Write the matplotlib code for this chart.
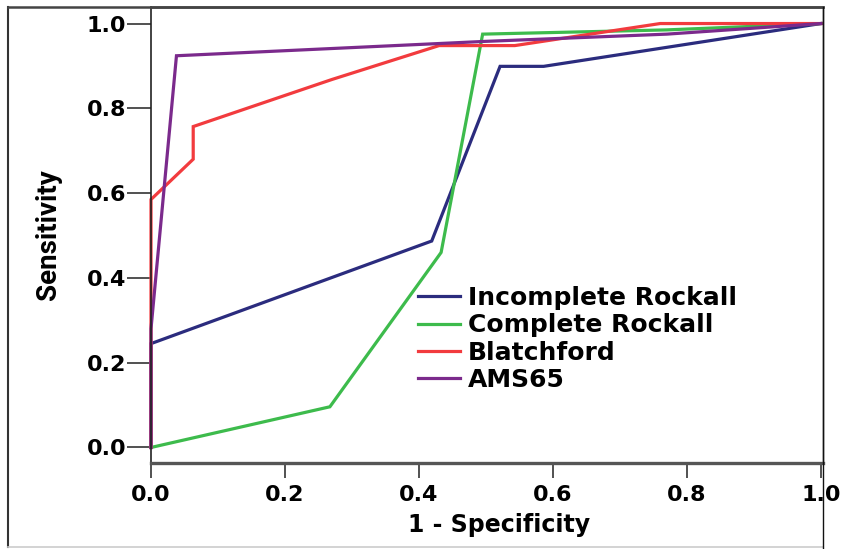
import matplotlib
matplotlib.use('Agg')
import matplotlib.pyplot as plt
from matplotlib.lines import Line2D

# ROC curves
inc_x = [0.0, 0.0, 0.419, 0.521, 0.586, 1.0]
inc_y = [0.0, 0.245, 0.487, 0.899, 0.899, 1.0]
comp_x = [0.0, 0.267, 0.433, 0.495, 0.77, 1.0]
comp_y = [0.0, 0.096, 0.46, 0.975, 0.985, 1.0]
blat_x = [0.0, 0.0, 0.063, 0.063, 0.27, 0.43, 0.543, 0.76, 1.0]
blat_y = [0.0, 0.585, 0.68, 0.757, 0.868, 0.948, 0.948, 1.0, 1.0]
ams_x = [0.0, 0.0, 0.038, 0.5, 0.77, 1.0]
ams_y = [0.0, 0.28, 0.924, 0.958, 0.975, 1.0]

names = ['Incomplete Rockall', 'Complete Rockall', 'Blatchford', 'AMS65']
colors = ['#2b2c7e', '#3dbb4c', '#f23b3e', '#7b2a8c']
ticks = [0.0, 0.2, 0.4, 0.6, 0.8, 1.0]
tick_labels = ['0.0', '0.2', '0.4', '0.6', '0.8', '1.0']

W, H = 848, 549
fig = plt.figure(figsize=(W / 100, H / 100), dpi=100)
fig.patch.set_facecolor('white')

# axes box in pixels: left 151, right 823, top 7, bottom 463
ax = fig.add_axes([151 / W, (H - 463) / H, (823 - 151) / W, (463 - 7) / H])

series = [(inc_x, inc_y), (comp_x, comp_y), (blat_x, blat_y), (ams_x, ams_y)]
for (xs, ys), c, n in zip(series, colors, names):
    ax.plot(xs, ys, color=c, lw=2.3, label=n, clip_on=False, solid_joinstyle='miter')

ax.set_xlim(0, 1.003)
ax.set_ylim(-0.0366, 1.039)
ax.set_xticks(ticks)
ax.set_xticklabels(tick_labels)
ax.set_yticks(ticks)
ax.set_yticklabels(tick_labels)

for lab in ax.get_xticklabels() + ax.get_yticklabels():
    lab.set_fontfamily('DejaVu Sans')
    lab.set_fontweight('bold')
    lab.set_fontsize(16)

ax.tick_params(axis='y', direction='out', length=17, width=1.2, pad=1, colors='#333333', labelcolor='black')
ax.tick_params(axis='x', direction='out', length=11, width=1.2, pad=5, colors='#333333', labelcolor='black')

ax.spines['left'].set_linewidth(1.2)
ax.spines['left'].set_color('#222222')
ax.spines['bottom'].set_linewidth(2.4)
ax.spines['bottom'].set_color('#555555')
ax.spines['top'].set_linewidth(1.8)
ax.spines['top'].set_color('#444444')
ax.spines['right'].set_linewidth(1.0)
ax.spines['right'].set_color('#111111')

ax.set_xlabel('1 - Specificity', family='DejaVu Sans', weight='bold', size=17)
ax.xaxis.set_label_coords(0.518, -0.11)
ax.set_ylabel('Sensitivity', family=['Liberation Sans Narrow', 'Roboto'], weight='bold', size=20)
ax.yaxis.set_label_coords(-0.132, 0.5)

leg = ax.legend(loc='upper left', bbox_to_anchor=(0.397, 0.388), frameon=False,
                borderpad=0, borderaxespad=0, labelspacing=0.13,
                handlelength=1.7, handletextpad=0.3,
                prop=dict(family='DejaVu Sans', weight='bold', size=18))

# outer frame around the figure
fx = lambda p: p / W
fy = lambda p: 1 - p / H
fig.add_artist(Line2D([fx(8), fx(8)], [fy(7), fy(547)], color='#333333', lw=1.5))
fig.add_artist(Line2D([fx(8), fx(823)], [fy(547), fy(547)], color='#cccccc', lw=1.2))
fig.add_artist(Line2D([fx(8), fx(823)], [fy(7), fy(7)], color='#444444', lw=1.8))
fig.add_artist(Line2D([fx(823), fx(823)], [fy(7), fy(549)], color='#111111', lw=1.0))

fig.savefig('out.png', dpi=100)
